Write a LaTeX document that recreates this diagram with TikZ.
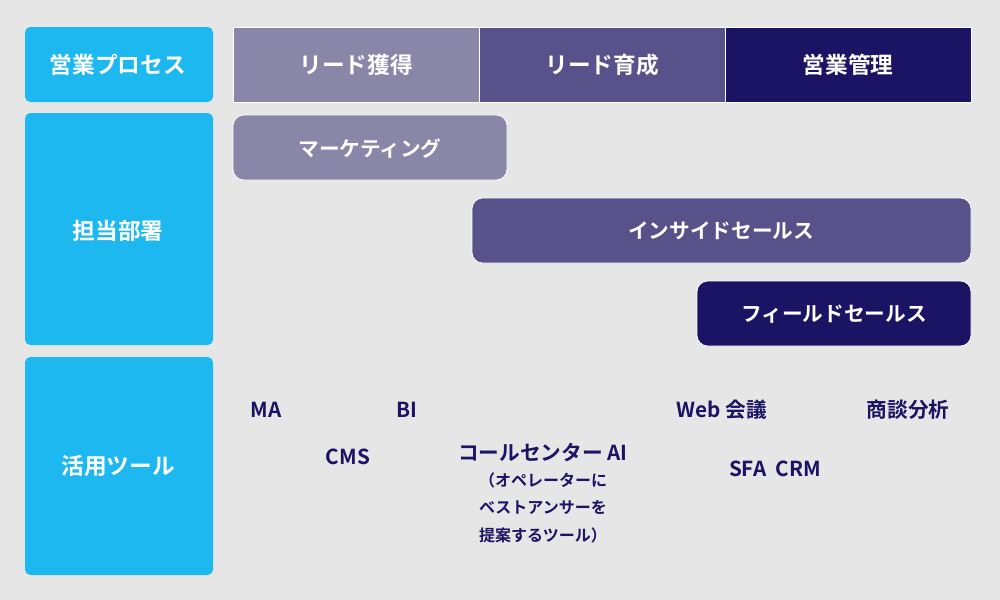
\documentclass[tikz,border=0pt]{standalone}
\usepackage{fontspec}
\newfontfamily\jp{Noto Sans CJK JP Bold}
\definecolor{bg}{HTML}{E6E6E6}
\definecolor{cy}{HTML}{1DB8F0}
\definecolor{c1}{HTML}{8A86A8}
\definecolor{c2}{HTML}{58518A}
\definecolor{c3}{HTML}{1B1464}
\begin{document}
\begin{tikzpicture}[x=0.75pt,y=-0.75pt,
  side/.style={fill=cy,rounded corners=4pt},
  hdr/.style={draw=white,line width=0.5pt},
  bar/.style={draw=white,line width=0.6pt,rounded corners=8pt},
  wt/.style={text=white,font=\jp\fontsize{17}{20}\selectfont},
  bt/.style={text=white,font=\jp\fontsize{15.5}{18}\selectfont},
  tt/.style={text=c3,font=\jp\fontsize{15.5}{18}\selectfont},
  st/.style={text=c3,font=\jp\fontsize{12}{20.5}\selectfont,align=center}]
\fill[bg] (0,0) rectangle (1000,600);
\useasboundingbox (0,0) rectangle (1000,600);
\fill[side] (25,27) rectangle (213,102);
\fill[side] (25,113) rectangle (213,345);
\fill[side] (25,357) rectangle (213,575);
\node[wt] (s1) at (118,65) {営業プロセス};
\node[wt] (s2) at (118,231) {担当部署};
\node[wt] (s3) at (118,466) {活用ツール};
\filldraw[hdr,fill=c1] (233,27) rectangle (479,102);
\filldraw[hdr,fill=c2] (479,27) rectangle (725,102);
\filldraw[hdr,fill=c3] (725,27) rectangle (971,102);
\node[wt] (h1) at (356,65) {リード獲得};
\node[wt] (h2) at (602,65) {リード育成};
\node[wt] (h3) at (848,65) {営業管理};
\filldraw[bar,fill=c1] (233,115) rectangle (507,180);
\filldraw[bar,fill=c2] (472,198) rectangle (971,263);
\filldraw[bar,fill=c3] (697,281) rectangle (971,346);
\node[bt] (b1) at (370,148) {マーケティング};
\node[bt] (b2) at (721,231) {インサイドセールス};
\node[bt] (b3) at (834,314) {フィールドセールス};
\node[tt] (t1) at (266,410) {MA};
\node[tt] (t2) at (407,410) {BI};
\node[tt] (t3) at (722,410) {Web 会議};
\node[tt] (t4) at (908,410) {商談分析};
\node[tt] (t5) at (348,457) {CMS};
\node[tt] (t6) at (543,453) {コールセンター AI};
\node[st,anchor=north] (t7) at (543,468) {（オペレーターに\\ベストアンサーを\\提案するツール）};
\node[tt] (t8) at (775,469) {SFA\ \ CRM};
\end{tikzpicture}
\end{document}
